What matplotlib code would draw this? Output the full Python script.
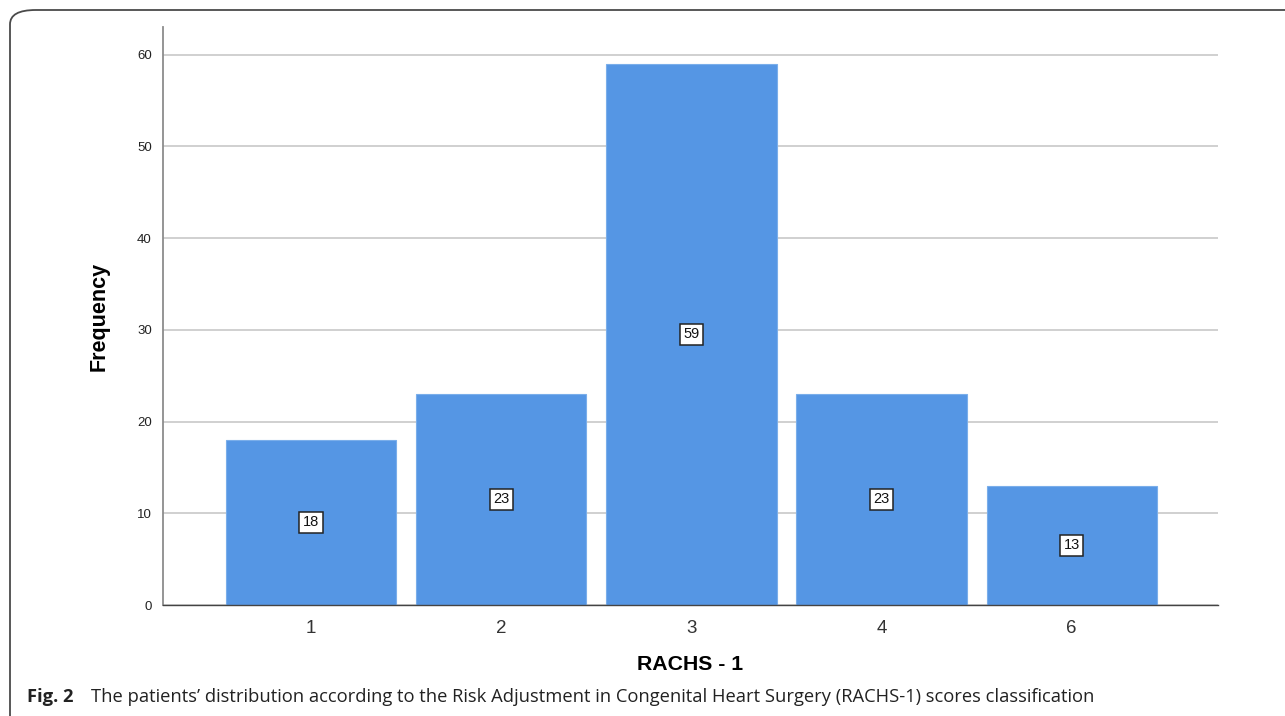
import matplotlib
matplotlib.use("Agg")
import matplotlib.pyplot as plt
from matplotlib.patches import FancyBboxPatch

categories = ["1", "2", "3", "4", "6"]
frequencies = [18, 23, 59, 23, 13]
y_ticks = [0, 10, 20, 30, 40, 50, 60]

W, H = 1285, 716
fig = plt.figure(figsize=(W / 100, H / 100), dpi=100)

# rounded outer frame of the figure panel
frame = FancyBboxPatch((10 / W, -20 / H), 1.2, (H - 10 + 20) / H,
                       boxstyle="round,pad=0,rounding_size=0.02",
                       transform=fig.transFigure, fill=False,
                       edgecolor="#4a4a4a", linewidth=1.3, clip_on=False)
fig.patches.append(frame)

left, right, top, bottom = 163, 1218, 27, 605
ax = fig.add_axes([left / W, 1 - bottom / H, (right - left) / W, (bottom - top) / H])

x = list(range(len(categories)))
ax.bar(x, frequencies, width=0.895, color="#5596E4", edgecolor="#7aaeea",
       linewidth=0.8, zorder=3)

for xi, v in zip(x, frequencies):
    ax.text(xi, v / 2, str(v), ha="center", va="center", fontsize=10.5,
            family="Liberation Sans", color="#111111", zorder=4,
            bbox=dict(boxstyle="square,pad=0.25", facecolor="white",
                      edgecolor="#222222", linewidth=1.1))

ax.set_xlim(-0.78, 4.77)
ax.set_ylim(0, 63)
ax.set_xticks(x)
ax.set_xticklabels(categories, fontsize=13.5, family="Liberation Sans", color="#333333")
ax.set_yticks(y_ticks)
ax.set_yticklabels([str(t) for t in y_ticks], fontsize=9.5, family="Liberation Sans",
                   color="#222222")
ax.tick_params(axis="both", length=0)
ax.tick_params(axis="x", pad=11)
ax.tick_params(axis="y", pad=8)

ax.grid(axis="y", color="#c8c8c8", linewidth=1.2, zorder=0)
ax.set_axisbelow(True)
for s in ["top", "right"]:
    ax.spines[s].set_visible(False)
ax.spines["left"].set_color("#8c8c8c")
ax.spines["left"].set_linewidth(1.3)
ax.spines["bottom"].set_color("#444444")
ax.spines["bottom"].set_linewidth(1.0)
ax.spines["bottom"].set_zorder(5)

ax.set_ylabel("Frequency", fontsize=15.5, fontweight="bold", family="Liberation Sans",
              labelpad=20)
ax.set_xlabel("RACHS - 1", fontsize=15.3, fontweight="bold", family="Liberation Sans",
              labelpad=13)

fig.text(27 / W, 1 - 697 / H, "Fig. 2", fontsize=13.2, fontweight="bold",
         family="Open Sans", va="center", ha="left", color="#222222")
fig.text(91 / W, 1 - 697 / H,
         "The patients\u2019 distribution according to the Risk Adjustment in Congenital Heart Surgery (RACHS-1) scores classification",
         fontsize=13.2, family="Open Sans", va="center", ha="left", color="#222222")

fig.savefig("out.png", dpi=100)
